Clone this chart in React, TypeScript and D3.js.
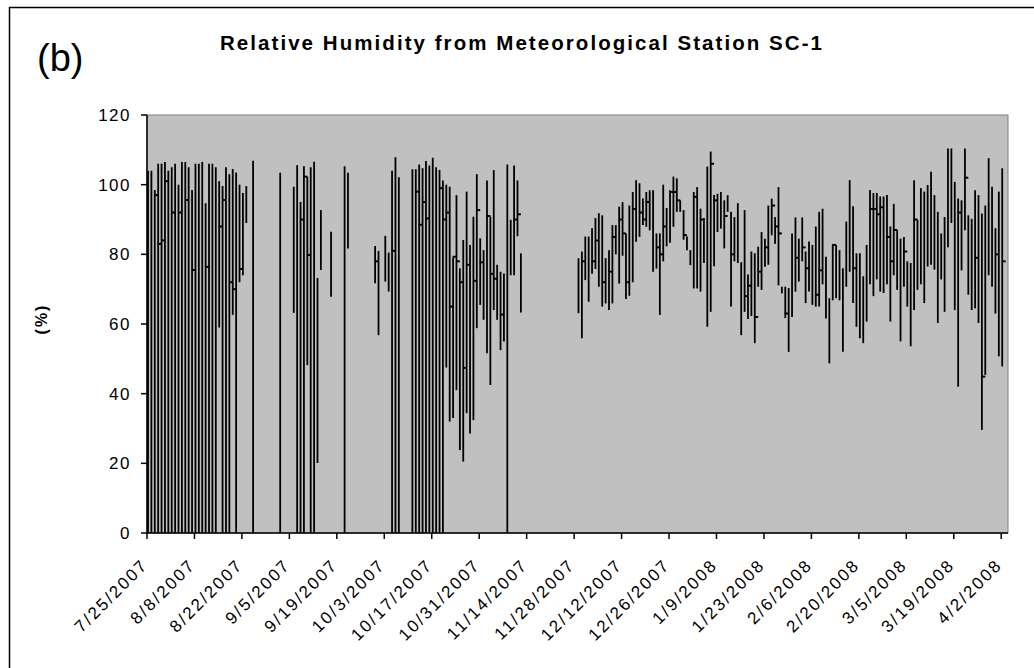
import React from "react";
import * as d3 from "d3";

// ---- data (day offsets from 7/25/2007, daily high / low / close of relative humidity, %) ----
const START_DATE = Date.UTC(2007, 6, 25);

const dayOffsets = [
  0, 1, 2, 3, 4, 5, 6, 7, 8, 9, 10, 11, 12, 13, 14, 15, 16, 17, 18, 19, 20, 21, 22, 23, 24, 25, 26, 27, 28, 29,
  31, 39, 43, 44, 45, 46, 47, 48, 49, 50, 51, 54, 58, 59, 67, 68, 70, 71, 72, 73, 74,
  78, 79, 80, 81, 82, 83, 84, 85, 86, 87, 88, 89, 90, 91, 92, 93, 94, 95, 96, 97, 98, 99, 100,
  101, 102, 103, 104, 105, 106, 107, 108, 109, 110,
  127, 128, 129, 130, 131, 132, 133, 134, 135, 136, 137, 138, 139, 140, 141, 142, 143, 144, 145, 146,
  147, 148, 149, 150, 151, 152, 153, 154, 155, 156, 157, 158, 159, 160, 161, 162, 163, 164, 165, 166,
  167, 168, 169, 170, 171, 172, 173, 174, 175, 176, 177, 178, 179, 180, 181, 182, 183, 184, 185, 186,
  187, 188, 189, 190, 191, 192, 193, 194, 195, 196, 197, 198, 199, 200, 201, 202, 203, 204, 205, 206,
  207, 208, 209, 210, 211, 212, 213, 214, 215, 216, 217, 218, 219, 220, 221, 222, 223, 224, 225, 226,
  227, 228, 229, 230, 231, 232, 233, 234, 235, 236, 237, 238, 239, 240, 241, 242, 243, 244, 245, 246,
  247, 248, 249, 250, 251, 252,
];

const highs = [
  104, 104, 98.5, 106, 106, 106.5, 104, 105, 106, 100, 106.5, 106.5, 105, 98.5, 106, 106, 106.5, 94.7, 106, 106, 105, 101, 99.6, 105, 103, 104.5, 103.5, 100, 97.6, 99.6,
  106.9, 103.4, 99.4, 105.6, 95, 105.3, 102.3, 105, 106.6, 73.2, 92.7, 86.5, 105.3, 103.4, 82.4, 81, 85.3, 80.5, 104, 107.9, 102.1,
  104.4, 104.4, 105.8, 104.7, 106.8, 105.5, 107.7, 105, 104.2, 101.2, 100, 99.4, 79, 97, 76, 84.1, 98, 82.7, 90.8, 103, 84.6, 81.2, 101.2,
  90.8, 104.2, 77, 75, 74.5, 105.8, 89.9, 105.5, 101.2, 80.3,
  78.9, 80.8, 85.1, 85.1, 87.5, 90.4, 91.8, 91.2, 78.9, 81.2, 88.4, 88.4, 93.7, 95, 86, 94, 97.9, 101.3, 100.4, 96,
  97.9, 98.4, 98.4, 86, 86, 100, 93.3, 98.4, 102.3, 101.8, 95.5, 92.7, 85.1, 81.2, 97.9, 99.3, 93.1, 90.4, 105.2, 109.5,
  97, 97.4, 97.9, 95.5, 97, 92.2, 90.7, 94.7, 77.7, 92.7, 74.2, 80.8, 80.3, 82.2, 86.4, 84.5, 94, 96, 90.7, 99.3,
  70.7, 70.7, 70.3, 86, 90.6, 84.5, 90.6, 80.8, 83.7, 82.7, 88, 92.2, 93.1, 79.3, 67.4, 82.7, 82.7, 81.2, 76, 89.4,
  101.3, 93.8, 80.3, 80.3, 73.7, 82.7, 98.5, 97.6, 97.6, 96.6, 96.6, 97, 88, 94.5, 87, 84.5, 85, 78, 77.5, 101.3,
  89.9, 99, 98, 99.9, 103.7, 97, 92.2, 86, 90.7, 110.4, 110.4, 100.8, 96, 95.5, 110.4, 91.2, 90.2, 98.4, 97, 91.7,
  94, 107.6, 99.4, 87.5, 98, 104.7,
];

const lows = [
  0, 0, 0, 0, 0, 0, 0, 0, 0, 0, 0, 0, 0, 0, 0, 0, 0, 0, 0, 0, 0, 59, 0, 0, 0, 62.6, 0, 72, 74, 89,
  0, 0, 63.2, 0, 0, 0, 48.2, 0, 0, 20.1, 75.5, 67.8, 0, 81.7, 71.7, 56.8, 72.2, 69.3, 0, 0, 0,
  0, 0, 0, 0, 0, 0, 0, 0, 0, 0, 47.5, 32, 33, 41, 23.8, 20.5, 34.4, 28.6, 32.4, 58.8, 65.5, 61.2, 51.6,
  42.5, 64, 61.2, 52.5, 55, 0, 74, 74, 85.2, 63.3,
  63.1, 55.9, 72.6, 66.4, 74.4, 75.8, 70.7, 65, 65.9, 64, 65.9, 80, 71.6, 79.6, 67.2, 68.1, 72, 83.6, 85, 88.4,
  87.9, 86.9, 75, 75.9, 62.6, 78, 82.3, 83.3, 87.9, 92.2, 92.2, 84.2, 81.2, 76.9, 70.2, 70.2, 69.3, 77.5, 59.2, 63.5,
  76.6, 86.4, 87.4, 81.7, 92.2, 65, 78, 77.5, 56.8, 63.5, 61.4, 62.3, 54.5, 70.7, 69.8, 76.4, 77, 85.5, 83, 71.1,
  68.8, 61.7, 52, 62, 69.3, 72.2, 78, 66, 69.3, 65.5, 65, 65, 71.4, 61.6, 48.7, 66.8, 67.4, 66.8, 52, 70.7,
  75, 66, 59.2, 55.9, 54.5, 60.7, 71.4, 68, 72.8, 69.3, 68.9, 71.4, 60.7, 74, 69.8, 55, 70.7, 65, 53.6, 64,
  69.8, 71.4, 66, 76.5, 77, 75.6, 60.3, 72.8, 63.5, 82, 89, 64, 42, 75.4, 86.9, 68.4, 64, 64.5, 60.3, 29.6,
  45.4, 74, 70.7, 63, 50.7, 47.8,
];

const closes: (number | null)[] = [
  null, null, 97, 83, 84, 101, null, 92, null, 92, null, 95.6, null, 75.5, null, null, null, 76.4, null, null, null, 88, 95.6, null, 72, 70, null, 75.8, null, null,
  null, null, null, null, 90, 102.3, 79.8, null, null, null, null, null, null, null, 78, null, null, null, 81, null, null,
  null, 98, 88.5, 95, 90.3, null, null, null, 99, 90, 92, 65, 79.3, 78, 72, 47.4, 77, null, 72.4, 92.7, 77.7, null, 91,
  74.4, 73, null, 62.7, null, null, null, 90, 91.5, null,
  null, 78, null, null, 78, 84, null, 72, null, 75, 85, null, 90, 86, 72, null, 93, null, 92, 90,
  95, null, null, 82, 80, 88, null, 97.9, 97.9, 95.5, null, 85.5, null, null, 96.5, null, 90, null, null, 106,
  95.5, null, null, 91, null, 80, null, null, null, 68, 71, null, 62, 75, null, 82, null, 94, 88, 86,
  null, 63, null, null, 79, null, 82, 76, null, null, 68.4, 75.4, null, null, null, 82.7, null, null, null, null,
  null, 76, null, null, null, null, 93, 93, 91.5, 93.5, null, 85, 78, 87, null, null, 80.8, null, null, 90,
  null, null, null, null, null, null, null, null, null, null, null, null, 92, null, 102, null, null, 79, null, 44.9,
  null, null, null, 80, null, 78,
];

const yTickValues = [0, 20, 40, 60, 80, 100, 120];
const xTickLabels = [
  "7/25/2007", "8/8/2007", "8/22/2007", "9/5/2007", "9/19/2007", "10/3/2007", "10/17/2007",
  "10/31/2007", "11/14/2007", "11/28/2007", "12/12/2007", "12/26/2007", "1/9/2008", "1/23/2008",
  "2/6/2008", "2/20/2008", "3/5/2008", "3/19/2008", "4/2/2008",
];

const TITLE = "Relative Humidity from Meteorological Station SC-1";
const PANEL = "(b)";
const Y_LABEL = "(%)";

const DAY = 86400000;
const FONT = "'Liberation Sans', Arial, Helvetica, sans-serif";

export default function App() {
  const W = 1034;
  const H = 668;
  const left = 147;
  const right = 1008;
  const top = 115;
  const bottom = 533;

  const x = d3
    .scaleUtc()
    .domain([new Date(START_DATE), new Date(START_DATE + 254 * DAY)])
    .range([left, right]);
  const y = d3.scaleLinear().domain([0, 120]).range([bottom, top]);

  const tickDates = d3.utcDay.range(new Date(START_DATE), new Date(START_DATE + 253 * DAY), 14);

  const points = dayOffsets.map((d, i) => ({
    date: new Date(START_DATE + d * DAY),
    high: highs[i],
    low: lows[i],
    close: closes[i],
  }));

  return (
    <svg
      width={W}
      height={H}
      style={{ position: "absolute", left: 0, top: 0, background: "#ffffff" }}
      fontFamily={FONT}
    >
      <rect x={0} y={0} width={W} height={H} fill="#ffffff" />
      {/* outer frame (cropped at right / bottom) */}
      <rect x={9.5} y={7.5} width={1040} height={680} fill="none" stroke="#000" strokeWidth={1.5} />

      <text x={37} y={71} fontSize={38} fill="#000">
        {PANEL}
      </text>
      <text x={220} y={50} fontSize={20.5} fontWeight="bold" fill="#000" textLength={602} lengthAdjust="spacing">
        {TITLE}
      </text>

      {/* plot area */}
      <rect x={left} y={top} width={right - left} height={bottom - top} fill="#c0c0c0" stroke="#808080" strokeWidth={1} />

      {/* high-low lines */}
      <g stroke="#000" strokeWidth={1.8}>
        {points.map((p, i) => {
          const px = x(p.date) + 1;
          return <line key={i} x1={px} x2={px} y1={y(p.high)} y2={y(p.low)} />;
        })}
      </g>
      {/* close marks */}
      <g stroke="#000" strokeWidth={2}>
        {points
          .filter((p) => p.close !== null)
          .map((p, i) => {
            const px = x(p.date) + 1;
            return <line key={i} x1={px - 0.5} x2={px + 3.4} y1={y(p.close as number)} y2={y(p.close as number)} />;
          })}
      </g>

      {/* axes */}
      <line x1={left} x2={left} y1={top} y2={bottom} stroke="#000" strokeWidth={1.5} />
      <line x1={left} x2={right} y1={bottom} y2={bottom} stroke="#000" strokeWidth={1.5} />

      {yTickValues.map((v) => (
        <g key={v}>
          <line x1={left - 6} x2={left} y1={y(v)} y2={y(v)} stroke="#000" strokeWidth={1.5} />
          <text x={131} y={y(v)} dy="0.36em" textAnchor="end" fontSize={17} letterSpacing={1.5} fill="#000">
            {v}
          </text>
        </g>
      ))}

      {tickDates.map((t, i) => {
        const tx = x(t);
        return (
          <g key={i}>
            <line x1={tx} x2={tx} y1={bottom} y2={bottom + 6} stroke="#000" strokeWidth={1.5} />
            <text
              transform={`translate(${tx + 2},${566}) rotate(-45)`}
              textAnchor="end"
              fontSize={17}
              letterSpacing={2.2}
              fill="#000"
            >
              {xTickLabels[i]}
            </text>
          </g>
        );
      })}

      <text
        transform="translate(47,319) rotate(-90)"
        textAnchor="middle"
        fontSize={16}
        fontWeight="bold"
        letterSpacing={2}
        fill="#000"
      >
        {Y_LABEL}
      </text>
    </svg>
  );
}
